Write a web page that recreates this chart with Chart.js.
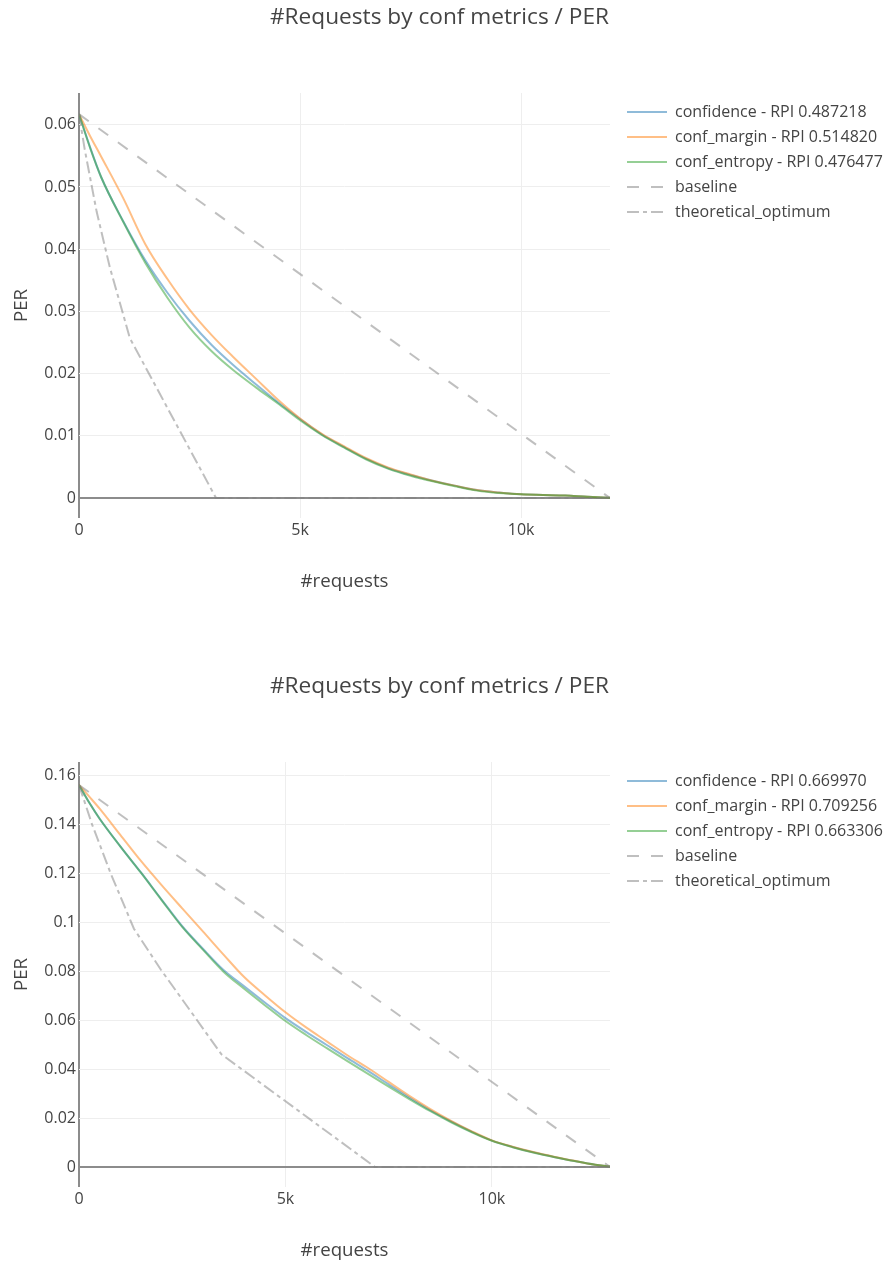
<!DOCTYPE html>
<html><head><meta charset="utf-8">
<script src="https://cdn.jsdelivr.net/npm/chart.js@4/dist/chart.umd.min.js"></script>
<style>
html,body{margin:0;padding:0;background:#fff;overflow:hidden;width:887px;height:1267px;}
.wrap{position:absolute;left:0;width:887px;height:600px;}
</style></head><body>
<div class="wrap" style="top:0"><canvas id="c1" width="887" height="600"></canvas></div>
<div class="wrap" style="top:669px"><canvas id="c2" width="887" height="600"></canvas></div>
<script>
// ---------- data: top chart ----------
const titleText = '#Requests by conf metrics / PER';
const xTickValues = [0, 5000, 10000];
const xTickLabels = ['0', '5k', '10k'];

const xsTop = [0,250,500,1000,1500,2000,2500,3000,3500,4000,4500,5000,5500,6000,6500,7000,7500,8000,8500,9000,9500,10000,10500,11000,11500,12010];
const confidenceTop = [0.0617,0.0564,0.0516,0.0445,0.0382,0.0330,0.0285,0.0246,0.0213,0.0183,0.0154,0.0127,0.0102,0.0082,0.0063,0.0048,0.0037,0.0028,0.0020,0.0013,0.0009,0.0006,0.0005,0.0004,0.0002,0.00005];
const marginTop = [0.0617,0.0582,0.0549,0.0482,0.0408,0.0352,0.0303,0.0262,0.0226,0.0192,0.0158,0.0128,0.0103,0.0083,0.0064,0.0049,0.0038,0.0028,0.0020,0.0013,0.0009,0.0006,0.0005,0.0004,0.0002,0.00005];
const entropyTop = [0.0617,0.0563,0.0516,0.0444,0.0378,0.0322,0.0274,0.0236,0.0205,0.0178,0.0152,0.0125,0.0101,0.0081,0.0062,0.0047,0.0036,0.0027,0.0019,0.0012,0.0008,0.0006,0.0005,0.0004,0.0002,0.00005];
const baselineXTop = [0, 12010];
const baselineTop = [0.0617, 0];
const optimumXTop = [0,130,400,700,1000,1150,3100,12010];
const optimumTop = [0.0617,0.056,0.046,0.037,0.0295,0.0257,0,0];
const yTickValuesTop = [0,0.01,0.02,0.03,0.04,0.05,0.06];
const yTickLabelsTop = ['0','0.01','0.02','0.03','0.04','0.05','0.06'];
const labelsTop = ['confidence - RPI 0.487218','conf_margin - RPI 0.514820','conf_entropy - RPI 0.476477','baseline','theoretical_optimum'];

// ---------- data: bottom chart ----------
const xsBot = [0,250,500,1000,1500,2000,2500,3000,3500,4000,4500,5000,5500,6000,6500,7000,7500,8000,8500,9000,9500,10000,10500,11000,11500,12000,12500,12860];
const confidenceBot = [0.1563,0.1490,0.1425,0.1312,0.1205,0.1094,0.0985,0.0893,0.0806,0.0739,0.0673,0.0609,0.0553,0.0499,0.0445,0.0393,0.0338,0.0284,0.0233,0.0187,0.0145,0.0108,0.0082,0.0060,0.0041,0.0024,0.0009,0.0002];
const marginBot = [0.1563,0.1515,0.1466,0.1359,0.1252,0.1153,0.1058,0.0964,0.0869,0.0777,0.0703,0.0633,0.0571,0.0514,0.0457,0.0405,0.0348,0.0291,0.0238,0.0190,0.0147,0.0109,0.0083,0.0061,0.0042,0.0025,0.0009,0.0002];
const entropyBot = [0.1563,0.1490,0.1425,0.1312,0.1204,0.1092,0.0982,0.0889,0.0799,0.0729,0.0662,0.0597,0.0540,0.0486,0.0433,0.0381,0.0329,0.0278,0.0229,0.0184,0.0143,0.0107,0.0081,0.0059,0.0041,0.0024,0.0009,0.0002];
const baselineXBot = [0, 12860];
const baselineBot = [0.1563, 0];
const optimumXBot = [0,320,770,1330,1980,3450,7170,12860];
const optimumBot = [0.1563,0.14,0.12,0.0975,0.0808,0.0461,0,0];
const yTickValuesBot = [0,0.02,0.04,0.06,0.08,0.1,0.12,0.14,0.16];
const yTickLabelsBot = ['0','0.02','0.04','0.06','0.08','0.1','0.12','0.14','0.16'];
const labelsBot = ['confidence - RPI 0.669970','conf_margin - RPI 0.709256','conf_entropy - RPI 0.663306','baseline','theoretical_optimum'];

// ---------- styling ----------
const colors = ['rgba(31,119,180,0.5)','rgba(255,127,14,0.5)','rgba(44,160,44,0.5)','rgba(128,128,128,0.5)','rgba(128,128,128,0.5)'];
const dashes = [[],[],[],[12,12],[12,4,4,4]];
const zeroColor = 'rgb(140,140,140)';

Chart.defaults.font.family = "'Open Sans', sans-serif";
Chart.defaults.color = '#444';

const layoutFix = {
  id: 'layoutFix',
  beforeLayout(chart) {
    const lg = chart.legend;
    if (lg && !lg._fitPatched) {
      const f = lg.fit;
      lg.fit = function () { f.call(this); this.width = 277; };
      lg._fitPatched = true;
    }
  },
  afterLayout(chart) {
    const lg = chart.legend;
    if (lg) {
      const h = lg.bottom - lg.top;
      lg.left += 8; lg.right += 8;
      lg.top = chart.chartArea.top + 2; lg.bottom = lg.top + h;
    }
    const tb = chart.titleBlock;
    if (tb) { tb.left -= 4; tb.right -= 4; }
  }
};

function pts(xs, ys) { return xs.map((x, i) => ({ x: x, y: ys[i] })); }

function makeChart(id, series, labels, xMax, yMin, yMax, yTicks, yLabels) {
  const datasets = series.map((s, i) => ({
    label: labels[i],
    data: pts(s[0], s[1]),
    borderColor: colors[i],
    backgroundColor: colors[i],
    borderWidth: 2,
    borderDash: dashes[i],
    pointRadius: 0,
    pointHoverRadius: 0,
    fill: false,
    tension: 0,
    cubicInterpolationMode: i < 3 ? 'monotone' : 'default',
    order: 10 - i
  }));
  new Chart(document.getElementById(id), {
    type: 'line',
    data: { datasets: datasets },
    plugins: [layoutFix],
    options: {
      responsive: false,
      animation: false,
      devicePixelRatio: 1,
      events: [],
      layout: { padding: 0 },
      plugins: {
        title: { display: true, text: titleText, color: '#444', font: { size: 22.67, weight: 'normal' }, padding: { top: 4.4, bottom: 61.4 } },
        tooltip: { enabled: false },
        legend: {
          display: true, position: 'right', align: 'start',
          labels: {
            usePointStyle: true, pointStyle: 'line', pointStyleWidth: 40,
            boxWidth: 40, padding: 9, color: '#444', font: { size: 16 },
            sort: (a, b) => a.datasetIndex - b.datasetIndex,
            generateLabels: chart => Chart.defaults.plugins.legend.labels.generateLabels(chart).map(it => {
              const ds = chart.data.datasets[it.datasetIndex];
              it.lineDash = ds.borderDash;
              it.strokeStyle = ds.borderColor;
              it.fillStyle = ds.borderColor;
              it.lineWidth = 2;
              it.pointStyle = 'line';
              return it;
            })
          }
        }
      },
      scales: {
        x: {
          type: 'linear', min: 0, max: xMax,
          afterBuildTicks: ax => { ax.ticks = xTickValues.map(v => ({ value: v })); },
          afterFit: sc => { sc.height = 82; },
          ticks: { callback: (v, i) => xTickLabels[i], autoSkip: false, maxRotation: 0, padding: 2.4, color: '#444', font: { size: 16 } },
          grid: {
            drawTicks: false,
            color: c => (c.tick && c.tick.value === 0) ? zeroColor : '#eee',
            lineWidth: c => (c.tick && c.tick.value === 0) ? 2 : 1
          },
          border: { display: false },
          title: { display: true, text: '#requests', color: '#444', font: { size: 18.67 }, padding: { top: 0, bottom: 6.8 } }
        },
        y: {
          type: 'linear', min: yMin, max: yMax,
          afterBuildTicks: ax => { ax.ticks = yTicks.map(v => ({ value: v })); },
          afterFit: sc => { sc.width = 79; },
          ticks: { callback: (v, i) => yLabels[i], autoSkip: false, padding: 3, color: '#444', font: { size: 16 } },
          grid: {
            drawTicks: false,
            color: c => (c.tick && c.tick.value === 0) ? zeroColor : '#eee',
            lineWidth: c => (c.tick && c.tick.value === 0) ? 2 : 1
          },
          border: { display: false },
          title: { display: true, text: 'PER', color: '#444', font: { size: 18.67 }, padding: { top: 10.8, bottom: 0 } }
        }
      }
    }
  });
}

makeChart('c1',
  [[xsTop, confidenceTop], [xsTop, marginTop], [xsTop, entropyTop], [baselineXTop, baselineTop], [optimumXTop, optimumTop]],
  labelsTop, 12010, -0.0032, 0.0651, yTickValuesTop, yTickLabelsTop);
makeChart('c2',
  [[xsBot, confidenceBot], [xsBot, marginBot], [xsBot, entropyBot], [baselineXBot, baselineBot], [optimumXBot, optimumBot]],
  labelsBot, 12860, -0.0082, 0.1657, yTickValuesBot, yTickLabelsBot);
</script></body></html>
